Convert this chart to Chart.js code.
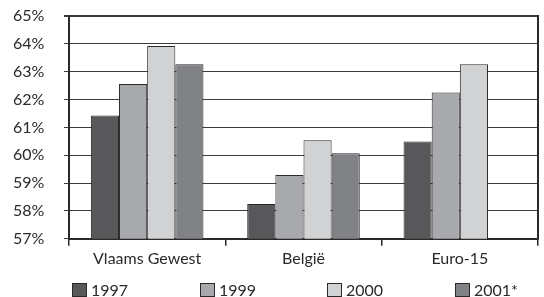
<!DOCTYPE html>
<html><head><meta charset="utf-8">
<script src="https://cdn.jsdelivr.net/npm/chart.js@4/dist/chart.umd.min.js"></script>
<style>html,body{margin:0;padding:0;background:#fff}#wrap{width:544px;height:297px}</style>
</head><body><div id="wrap"><canvas id="c" width="544" height="297"></canvas></div>
<script>
const categories = ['Vlaams Gewest', 'België', 'Euro-15'];
const seriesNames = ['1997', '1999', '2000', '2001*'];
const values1997 = [61.43, 58.25, 60.49];
const values1999 = [62.56, 59.29, 62.25];
const values2000 = [63.92, 60.54, 63.27];
const values2001 = [63.27, 60.07, null];
const yTicks = [57, 58, 59, 60, 61, 62, 63, 64, 65];

const fills = ['#58585b', '#a8a9ac', '#d1d2d4', '#818285'];
const ink = '#2a2a2a';
const gridInk = '#3c3c3c';
const FONT = "Lato, 'Open Sans', sans-serif";

const legendPlugin = {
  id: 'customLegend',
  afterDraw(chart) {
    const ctx = chart.ctx, ca = chart.chartArea;
    const step = 127.5;
    ctx.save();
    ctx.font = '16px ' + FONT;
    ctx.textBaseline = 'alphabetic';
    chart.data.datasets.forEach((ds, i) => {
      const x = Math.round(ca.left + 3 + i * step);
      const y = 283;
      ctx.fillStyle = ds.backgroundColor;
      ctx.fillRect(x + 0.5, y + 0.5, 14, 13);
      ctx.strokeStyle = ink; ctx.lineWidth = 1;
      ctx.strokeRect(x + 0.5, y + 0.5, 14, 13);
      ctx.fillStyle = ink;
      ctx.fillText(ds.label, x + 19, y + 13);
    });
    ctx.restore();
  }
};
const rightBorder = {
  id: 'rightBorder',
  afterDatasetsDraw(chart) {
    const ctx = chart.ctx, ca = chart.chartArea;
    ctx.save();
    ctx.strokeStyle = ink; ctx.lineWidth = 2;
    ctx.beginPath();
    ctx.moveTo(Math.round(ca.right), ca.top - 1);
    ctx.lineTo(Math.round(ca.right), ca.bottom + 1);
    ctx.stroke();
    ctx.restore();
  }
};

new Chart(document.getElementById('c'), {
  type: 'bar',
  data: {
    labels: categories,
    datasets: [values1997, values1999, values2000, values2001].map((v, i) => ({
      label: seriesNames[i],
      data: v,
      backgroundColor: fills[i],
      borderColor: ink,
      borderWidth: 1,
      categoryPercentage: 0.72,
      barPercentage: 1.0
    }))
  },
  options: {
    responsive: false,
    animation: false,
    devicePixelRatio: 1,
    layout: { padding: { left: 13, right: 6, top: 16, bottom: 26 } },
    plugins: { legend: { display: false }, tooltip: { enabled: false } },
    scales: {
      x: {
        grid: { display: true, drawOnChartArea: false, drawTicks: true, tickLength: 7, color: ink, lineWidth: 1.5, offset: true },
        border: { display: true, color: ink, width: 2 },
        ticks: { color: ink, font: { family: FONT, size: 16 }, padding: 3 }
      },
      y: {
        min: 57, max: 65,
        afterBuildTicks(axis) { axis.ticks = yTicks.map(v => ({ value: v })); },
        afterFit(axis) { axis.width = 56; },
        grid: { color: gridInk, lineWidth: c => (c.tick && c.tick.value === 65 ? 2 : 1), tickLength: 5 },
        border: { display: true, color: ink, width: 2 },
        ticks: { color: ink, font: { family: FONT, size: 16 }, padding: 2, crossAlign: 'far', callback: v => v + '%' }
      }
    }
  },
  plugins: [legendPlugin, rightBorder]
});
</script></body></html>
